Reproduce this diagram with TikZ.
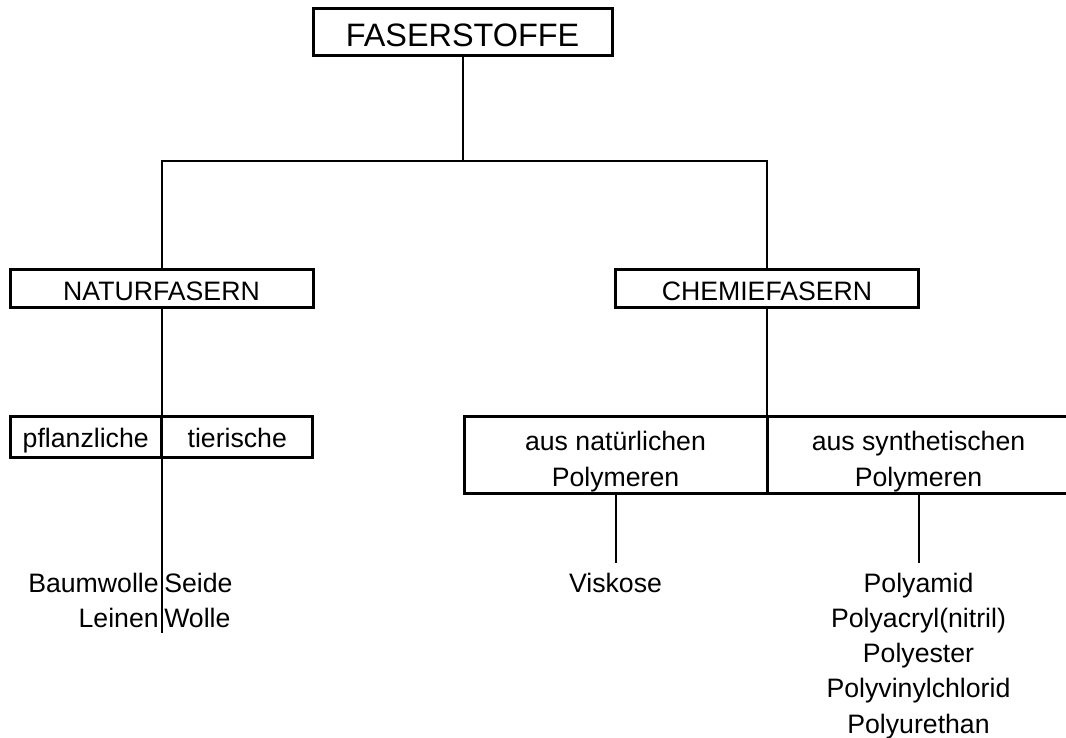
\documentclass[tikz,border=0pt]{standalone}
\usepackage{fontspec}
\setmainfont{Liberation Sans}
\tikzset{
  box/.style={draw, line width=2.25pt, inner sep=0pt, outer sep=0pt, text depth=0pt},
  small/.style={font=\fontsize{20}{27}\selectfont},
  branch/.style={line width=1.5pt},
  item/.style={inner sep=0pt, font=\fontsize{20}{27}\selectfont},
}
\begin{document}
\begin{tikzpicture}[x=0.75pt,y=-0.75pt]
\clip (0,0) rectangle (1066,738);

% boxes
\node[box, minimum width=224.25pt, minimum height=35.25pt, text height=22.5pt,
  font=\fontsize{24.3}{28}\selectfont] (faser) at (462.5,32) {FASERSTOFFE};

\node[box, small, minimum width=227.25pt, minimum height=28.5pt, text height=18pt] (natur) at (161.5,288) {NATURFASERN};
\node[box, small, minimum width=227.25pt, minimum height=28.5pt, text height=18pt] (chemie) at (767,288) {CHEMIEFASERN};

\node[box, small, minimum width=113.6pt, minimum height=30.75pt, text height=16.5pt] (pfl) at (85.75,436.5) {pflanzliche};
\node[box, small, minimum width=113.6pt, minimum height=30.75pt, text height=16.5pt] (tier) at (237.25,436.5) {tierische};

\node[box, small, align=center, minimum width=227.25pt, minimum height=57.75pt, text height=47.25pt] (ausnat) at (615.5,454.5) {aus natürlichen\\Polymeren};
\node[box, small, align=center, minimum width=227.25pt, minimum height=57.75pt, text height=47.25pt] (aussyn) at (918.5,454.5) {aus synthetischen\\Polymeren};

% line ends
\coordinate (split) at (462.5,161);
\coordinate (natEnd) at (161.5,633);
\coordinate (viskTop) at (615.5,563);
\coordinate (polyTop) at (918.5,563);

\draw[branch] (faser.south) -- (split);
\draw[branch] (natur.north) |- (split) -| (chemie.north);
\draw[branch] (natur.south) -- (natEnd);
\draw[branch] (chemie.south) -- (ausnat.north east);
\draw[branch] (ausnat.south) -- (viskTop);
\draw[branch] (aussyn.south) -- (polyTop);

% fibres
\node[item, anchor=base east] (baum) at (159,592) {Baumwolle};
\node[item, anchor=base east] (leinen) at (159,627) {Leinen};
\node[item, anchor=base west] (seide) at (164,592) {Seide};
\node[item, anchor=base west] (wolle) at (164,627) {Wolle};

\node[item, anchor=base] (visk) at (615.5,592) {Viskose};

\node[item, anchor=base] (pa) at (918.5,592) {Polyamid};
\node[item, anchor=base] (pan) at (918.5,627.25) {Polyacryl(nitril)};
\node[item, anchor=base] (pes) at (918.5,662.5) {Polyester};
\node[item, anchor=base] (pvc) at (918.5,697.75) {Polyvinylchlorid};
\node[item, anchor=base] (pur) at (918.5,733) {Polyurethan};
\end{tikzpicture}
\end{document}
